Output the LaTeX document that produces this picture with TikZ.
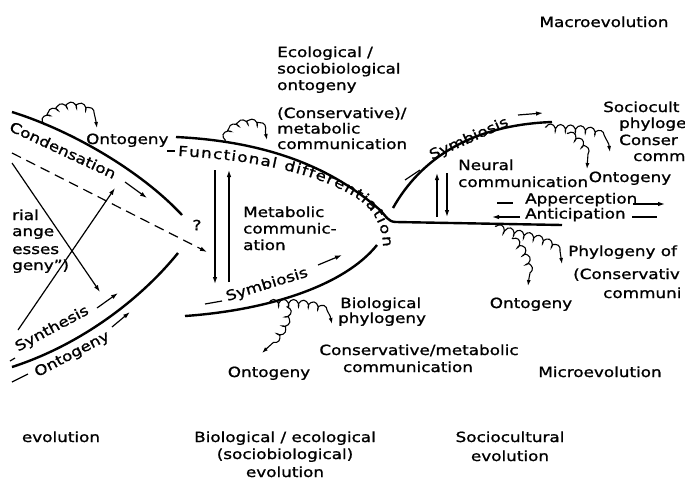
\documentclass[tikz,border=0pt]{standalone}
\usepackage{fontspec}
\setmainfont{DejaVu Sans}[FakeStretch=1.2,FakeBold=1.2]
\usetikzlibrary{arrows.meta,decorations.pathmorphing,decorations.text}
\begin{document}
\begin{tikzpicture}[x=1pt,y=-1pt,
  t/.style={font=\fontsize{14}{16}\selectfont, inner sep=0pt, anchor=base west},
  tc/.style={font=\fontsize{14}{16}\selectfont, inner sep=0pt, anchor=base},
  tr/.style={font=\fontsize{14}{16}\selectfont, inner sep=0pt, anchor=center},
  pathtext/.style={decorate, decoration={text along path, text align=center,
     text={|\fontsize{14}{16}\selectfont|#1}}},
  bold line/.style={line width=2.4pt},
  thin line/.style={line width=1.2pt},
  arr/.style={thin line, -{Latex[length=7pt,width=4.5pt]}},
  darr/.style={thin line, dash pattern=on 10pt off 6pt, -{Latex[length=7pt,width=4.5pt]}},
  curl/.style={line width=1.1pt, -{Latex[length=6pt,width=4pt]}, decorate,
     decoration={coil, amplitude=3.5pt, segment length=10pt, aspect=0.6, pre length=1pt, post length=8pt}},
]
\fill[white] (0,0) rectangle (685,483);
\useasboundingbox (0,0) rectangle (685,483);

% ---- bold curves ----
\draw[bold line] (12,112) .. controls (70,130) and (140,170) .. (182,215);
\draw[bold line] (12,367) .. controls (80,345) and (140,300) .. (178,253);
\draw[bold line] (176,137) .. controls (280,142) and (340,175) .. (380,210)
   .. controls (386,216) and (388,222) .. (396,222) -- (562,225);
\draw[bold line] (185,316) .. controls (270,310) and (345,285) .. (377,245);
\draw[bold line] (393,208) .. controls (420,160) and (470,125) .. (552,122);

% ---- left part ----
\node[tr, rotate=-25] (cond) at (63,150) {Condensation};
\draw[arr] (125,182) -- (147,198);
\draw[darr] (12,153) -- (207,252);
\draw[arr] (12,163) -- (100,292);
\draw[arr] (18,330) -- (115,188);
\node[t] (left1) at (12,220) {rial};
\node[t] (left2) at (12,236) {ange};
\node[t] (left3) at (12,254) {esses};
\node[t] (left4) at (12,270) {geny'')};
\draw[thin line] (10,361) -- (15,358);
\path[pathtext=Synthesis] (12,355) -- (96,310);
\draw[arr] (97,308) -- (118,293);
\draw[thin line] (12,382) -- (28,374);
\path[pathtext=Ontogeny] (36,378) -- (112,338);
\draw[arr] (112,327) -- (130,312);
\node[t] (ontoA) at (86,144) {Ontogeny};
\draw[curl] (44,125) .. controls (50,100) and (97,98) .. (97,128);

% ---- middle part ----
\node[t] (eco1) at (277,57) {Ecological /};
\node[t] (eco2) at (277,73.5) {sociobiological};
\node[t] (eco3) at (277,90) {ontogeny};
\node[t] (cm1) at (277,118) {(Conservative)/};
\node[t] (cm2) at (277,133.5) {metabolic};
\node[t] (cm3) at (277,149) {communication};
\draw[curl] (225,141) .. controls (230,118) and (267,116) .. (267,140);
\draw[thin line] (167,151) -- (175,151);
\path[decorate, decoration={text along path, text align=fit to path,
   text={|\fontsize{14}{16}\selectfont|Functional differentiation}}]
   (178,156) .. controls (265,160) and (330,178) .. (362,202)
   .. controls (375,212) and (383,229) .. (383,247);
\node[tr] (q) at (197,225) {?};
\draw[arr] (215,170) -- (215,284);
\draw[arr] (229,282) -- (229,170);
\node[t] (mc1) at (243,217) {Metabolic};
\node[t] (mc2) at (243,233.5) {communic-};
\node[t] (mc3) at (243,250) {ation};
\draw[thin line] (205,304) -- (222,301);
\node[tr, rotate=17] (symA) at (267,285) {Symbiosis};
\draw[arr] (318,265) -- (342,255);
\draw[curl] (268,303) .. controls (290,303) and (332,300) .. (332,324);
\draw[curl] (287,306) .. controls (290,325) and (278,338) .. (262,353);
\node[t] (bp1) at (340,308) {Biological};
\node[t] (bp2) at (338,323) {phylogeny};
\node[tc] (ontoB) at (269,377) {Ontogeny};
\node[tc] (cmc1) at (419,355) {Conservative/metabolic};
\node[tc] (cmc2) at (408,372) {communication};

% ---- right part ----
\node[tc] (macro) at (604,27) {Macroevolution};
\draw[thin line] (405,180) -- (420,170);
\node[tr, rotate=24] (symB) at (469,139) {Symbiosis};
\draw[arr] (518,115) -- (543,113);
\draw[curl] (545,127) .. controls (575,130) and (610,125) .. (610,152);
\draw[curl] (567,133) .. controls (580,140) and (590,150) .. (587,169);
\node[t] (so1) at (603,112) {Sociocult};
\node[t] (so2) at (619,128) {phyloge};
\node[t] (so3) at (619,145) {Conser};
\node[t] (so4) at (633,161) {comm};
\node[t] (ne1) at (458,170) {Neural};
\node[t] (ne2) at (458,187) {communication};
\node[tc] (ontoC) at (630,182) {Ontogeny};
\draw[arr] (437,217) -- (437,173);
\draw[arr] (447,173) -- (447,217);
\draw[thin line] (497,203) -- (513,203);
\node[t] (app) at (525,203.5) {Apperception};
\draw[arr] (633,204) -- (665,204);
\draw[arr] (520,217) -- (492,217);
\node[t] (ant) at (525,218.5) {Anticipation};
\draw[thin line] (632,217) -- (657,217);
\draw[curl] (495,226) .. controls (520,238) and (562,235) .. (562,264);
\draw[curl] (512,238) .. controls (525,250) and (532,265) .. (528,286);
\node[t] (ph1) at (568,256) {Phylogeny of};
\node[t] (ph2) at (573,279) {(Conservativ};
\node[t] (ph3) at (603,298) {communi};
\node[tc] (ontoD) at (531,308) {Ontogeny};
\node[tc] (micro) at (600,377) {Microevolution};

% ---- bottom ----
\node[tc] (ev1) at (61,442) {evolution};
\node[tc] (bio1) at (285,442) {Biological / ecological};
\node[tc] (bio2) at (285,459) {(sociobiological)};
\node[tc] (bio3) at (285,477) {evolution};
\node[tc] (sc1) at (510,442) {Sociocultural};
\node[tc] (sc2) at (510,461) {evolution};
\end{tikzpicture}
\end{document}
